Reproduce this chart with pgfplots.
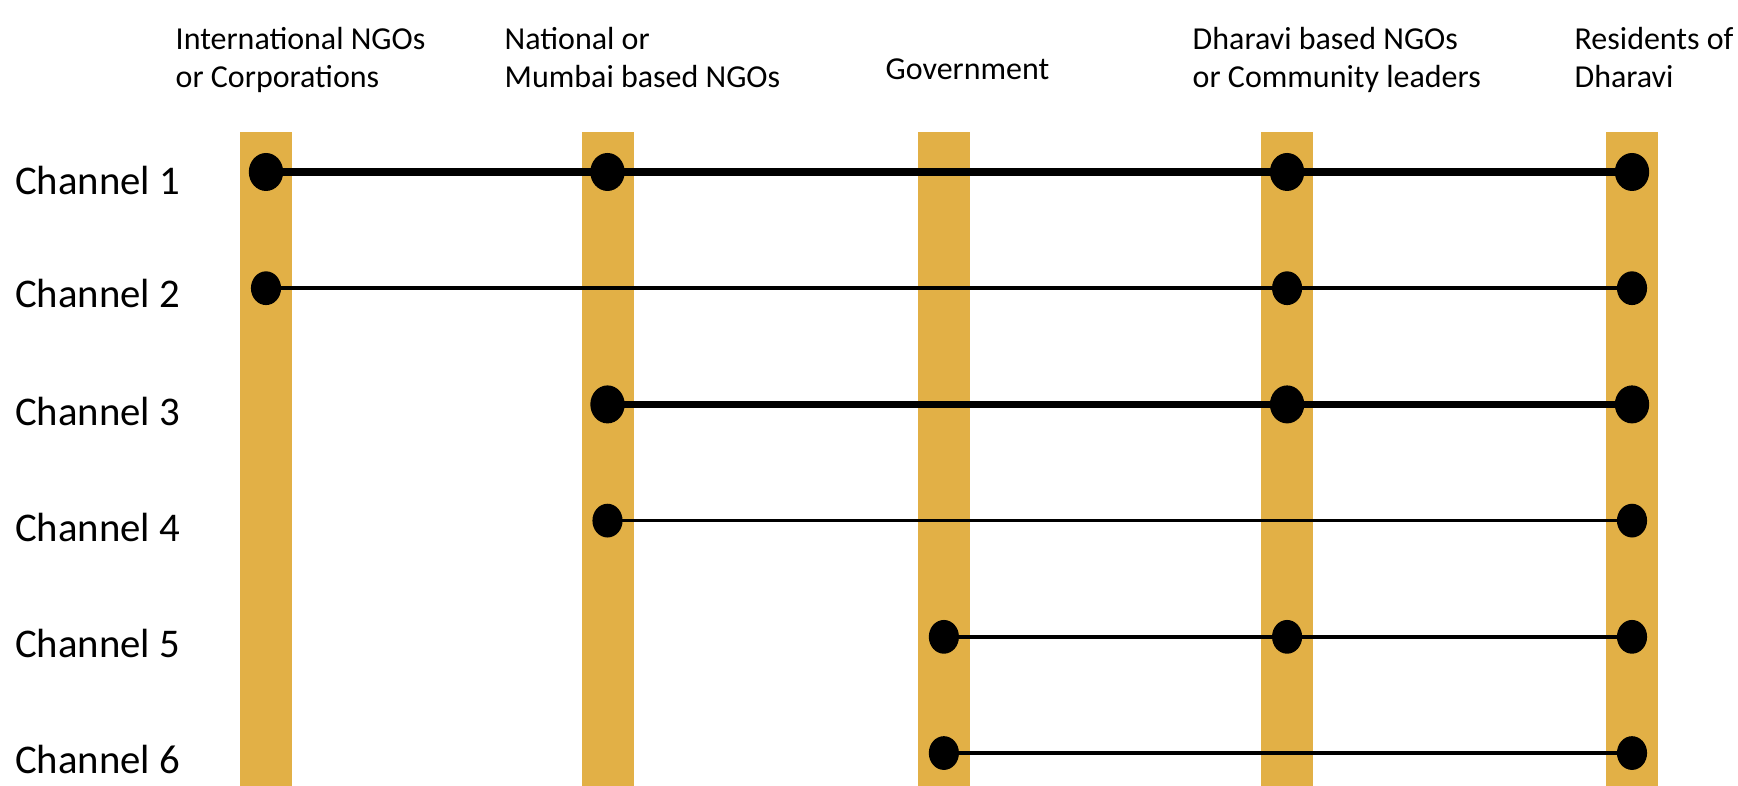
\documentclass[border=0pt]{standalone}
\usepackage{fontspec}
\setmainfont{Carlito}
\usepackage{pgfplots}
\pgfplotsset{compat=1.18}
\definecolor{barcol}{HTML}{E2B046}

\begin{document}
\begin{tikzpicture}
\begin{axis}[
    width=17.38cm, height=7.85cm,
    scale only axis,
    hide axis,
    xmin=0.2211, xmax=5.3104,
    ymin=-0.480, ymax=6.275,
    y dir=reverse,
    clip=true,
]
% vertical columns, one per actor
\addplot[barcol, line width=0.52cm] coordinates {(1,0.656) (1,6.4)};
\addplot[barcol, line width=0.52cm] coordinates {(2,0.656) (2,6.4)};
\addplot[barcol, line width=0.52cm] coordinates {(2.985,0.656) (2.985,6.4)};
\addplot[barcol, line width=0.52cm] coordinates {(3.99,0.656) (3.99,6.4)};
\addplot[barcol, line width=0.52cm] coordinates {(5,0.656) (5,6.4)};

% channels
\pgfplotsset{every axis plot/.append style={black, mark=*, mark size=4.3pt,
    mark options={xscale=0.88, fill=black}}}
\addplot[line width=2.2pt] coordinates {(1,1) (2,1) (3.99,1) (5,1)};
\addplot[line width=1.0pt] coordinates {(1,2) (3.99,2) (5,2)};
\addplot[line width=2.2pt] coordinates {(2,3) (3.99,3) (5,3)};
\addplot[line width=1.0pt] coordinates {(2,4) (5,4)};
\addplot[line width=1.0pt] coordinates {(2.985,5) (3.99,5) (5,5)};
\addplot[line width=1.0pt] coordinates {(2.985,6) (5,6)};

% column headers (anchor is the baseline of the last line)
\tikzset{hdr/.style={anchor=base west, align=left, inner sep=0pt,
    font=\fontsize{9.1}{10.8}\selectfont}}
\node[hdr] at (axis cs:0.7335,0.277) {International NGOs\\or Corporations};
\node[hdr] at (axis cs:1.697,0.277) {National or\\Mumbai based NGOs};
\node[hdr] at (axis cs:2.8126,0.20) {Government};
\node[hdr] at (axis cs:3.7116,0.277) {Dharavi based NGOs\\or Community leaders};
\node[hdr] at (axis cs:4.830,0.277) {Residents of\\Dharavi};

% row labels
\tikzset{rowlab/.style={anchor=base east, inner sep=0pt,
    font=\fontsize{11.6}{14}\selectfont}}
\node[rowlab] at (axis cs:0.751,1.19) {Channel 1};
\node[rowlab] at (axis cs:0.751,2.17) {Channel 2};
\node[rowlab] at (axis cs:0.751,3.18) {Channel 3};
\node[rowlab] at (axis cs:0.751,4.18) {Channel 4};
\node[rowlab] at (axis cs:0.751,5.18) {Channel 5};
\node[rowlab] at (axis cs:0.751,6.18) {Channel 6};
\end{axis}
\pgfresetboundingbox
\useasboundingbox (current axis.south west) rectangle (current axis.north east);
\end{tikzpicture}
\end{document}
